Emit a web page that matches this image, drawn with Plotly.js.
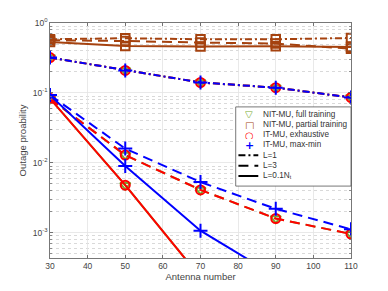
<!DOCTYPE html>
<html><head><meta charset="utf-8">
<script src="https://cdn.plot.ly/plotly-3.0.1.min.js"></script>
<style>html,body{margin:0;padding:0;background:#fff}#chart{width:388px;height:291px}</style>
</head><body><div id="chart"></div>
<script>
// ---- data ----
const antennas = [30, 50, 70, 90, 110];
// NIT-MU, full training
const nitFullL1 = [0.32, 0.21, 0.141, 0.119, 0.086];
const nitFullL3 = [0.083, 0.0129, 0.0041, 0.0016, 0.00096];
const nitFullLN = [0.083, 0.0048, 0.00023, null, null];
// NIT-MU, partial training
const nitPartL1 = [0.585, 0.605, 0.585, 0.585, 0.61];
const nitPartL3 = [0.566, 0.553, 0.525, 0.508, 0.428];
const nitPartLN = [0.535, 0.469, 0.46, 0.465, 0.454];
// IT-MU, exhaustive
const itExhL1 = [0.32, 0.21, 0.141, 0.119, 0.086];
const itExhL3 = [0.083, 0.0129, 0.0041, 0.0016, 0.00096];
const itExhLN = [0.083, 0.0048, 0.00023, null, null];
// IT-MU, max-min
const itMaxL1 = [0.32, 0.21, 0.141, 0.119, 0.086];
const itMaxL3 = [0.093, 0.016, 0.0053, 0.0022, 0.00112];
const itMaxLN = [0.093, 0.009, 0.00107, 0.00024, null];

const xTicks = [30, 40, 50, 60, 70, 80, 90, 100, 110];
const yTickVals = [0.001, 0.01, 0.1, 1];
const yTickText = ['10<sup>-3</sup>', '10<sup>-2</sup>', '10<sup>-1</sup>', '10<sup>0</sup>'];
const legendMarkerLabels = ['NIT-MU, full training', 'NIT-MU, partial training', 'IT-MU, exhaustive', 'IT-MU, max-min'];
const legendLineLabels = ['L=1', 'L=3', 'L=0.1N<sub>t</sub>'];

// ---- styles ----
const GREEN = '#77AC30', BROWN = '#A5420F', RED = '#FF0000', BLUE = '#0000FF';
const DASHES = ['7px,3px,2px,3px', '10px,6px', 'solid'];
const FONT = 'Liberation Sans, Arial, sans-serif';

const groups = [
  {color: GREEN, symbol: 'triangle-down-open', size: 9, series: [nitFullL1, nitFullL3, nitFullLN]},
  {color: BROWN, symbol: 'square-open', size: 8.5, series: [nitPartL1, nitPartL3, nitPartLN]},
  {color: RED, symbol: 'circle-open', size: 9, series: [itExhL1, itExhL3, itExhLN]},
  {color: BLUE, symbol: 'cross-thin-open', size: 10, series: [itMaxL1, itMaxL3, itMaxLN]}
];

const traces = [];
groups.forEach(g => {
  g.series.forEach((ys, i) => {
    traces.push({
      x: antennas, y: ys, type: 'scatter', mode: 'lines+markers',
      showlegend: false, cliponaxis: true,
      line: {color: g.color, width: 2, dash: DASHES[i]},
      marker: {symbol: g.symbol, size: g.size, color: g.color, line: {color: g.color, width: 2}}
    });
  });
});

// ---- custom legend (paper coordinates) ----
const lgX0 = 0.617, lgX1 = 1.0, lgYTop = 0.643, lgYBot = 0.306;
const itemY = [0.612, 0.568, 0.524, 0.481, 0.437, 0.393, 0.349];
const symX = 0.662, lineX0 = 0.626, lineX1 = 0.692, textX = 0.703;
const glyphs = ['▽', '□', '○', '+'];
const glyphSizes = [10, 10, 10, 11];

const shapes = [{type: 'rect', xref: 'paper', yref: 'paper', x0: lgX0, x1: lgX1, y0: lgYBot, y1: lgYTop,
  line: {color: '#555', width: 0.8}, fillcolor: '#fff', layer: 'above'}];
const annotations = [];
legendMarkerLabels.forEach((t, i) => {
  annotations.push({xref: 'paper', yref: 'paper', x: symX, y: itemY[i], text: glyphs[i], showarrow: false,
    xanchor: 'center', yanchor: 'middle', height: 8, borderpad: 0,
    font: {family: 'DejaVu Sans', size: glyphSizes[i], color: groups[i].color, weight: 'bold'}});
  annotations.push({xref: 'paper', yref: 'paper', x: textX, y: itemY[i], text: t, showarrow: false,
    xanchor: 'left', yanchor: 'middle', height: 9, borderpad: 0,
    font: {family: FONT, size: 8.2, color: '#333'}});
});
legendLineLabels.forEach((t, j) => {
  const y = itemY[4 + j];
  shapes.push({type: 'line', xref: 'paper', yref: 'paper', x0: lineX0, x1: lineX1, y0: y, y1: y,
    line: {color: '#000', width: 2, dash: DASHES[j]}, layer: 'above'});
  annotations.push({xref: 'paper', yref: 'paper', x: textX, y: y, text: t, showarrow: false,
    xanchor: 'left', yanchor: 'middle', height: 9, borderpad: 0,
    font: {family: FONT, size: 8.2, color: '#333'}});
});

const minorVals = [];
[-4, -3, -2, -1].forEach(e => { for (let k = 2; k <= 9; k++) minorVals.push(k * Math.pow(10, e)); });

const layout = {
  width: 388, height: 291,
  margin: {l: 50, r: 37, t: 23, b: 33, pad: 0},
  paper_bgcolor: '#fff', plot_bgcolor: '#fff',
  font: {family: FONT, size: 8.5, color: '#444'},
  showlegend: false,
  xaxis: {
    range: [30, 110], tickmode: 'array', tickvals: xTicks,
    ticks: 'inside', ticklen: 3, tickcolor: '#555', tickwidth: 0.8,
    showline: true, linecolor: '#555', linewidth: 0.8, mirror: 'ticks',
    showgrid: true, gridcolor: '#e3e3e3', gridwidth: 0.8, zeroline: false,
    tickfont: {family: FONT, size: 8.5, color: '#444'},
    title: {text: 'Antenna number', font: {family: FONT, size: 9.5, color: '#444'}, standoff: 3}
  },
  yaxis: {
    type: 'log', range: [-3.361, 0], tickmode: 'array', tickvals: yTickVals, ticktext: yTickText,
    ticks: 'inside', ticklen: 3, tickcolor: '#555', tickwidth: 0.8,
    showline: true, linecolor: '#555', linewidth: 0.8, mirror: 'ticks',
    showgrid: true, gridcolor: '#e3e3e3', gridwidth: 0.8, zeroline: false,
    minor: {tickmode: 'array', tickvals: minorVals, ticks: 'inside', ticklen: 2, tickcolor: '#777',
      showgrid: true, gridcolor: '#cfcfcf', griddash: 'dot', gridwidth: 0.8},
    tickfont: {family: FONT, size: 8.5, color: '#444'},
    title: {text: 'Outage proability', font: {family: FONT, size: 9.5, color: '#444'}, standoff: 4}
  },
  shapes: shapes,
  annotations: annotations
};

Plotly.newPlot('chart', traces, layout, {staticPlot: true, displayModeBar: false});
</script>
</body></html>
